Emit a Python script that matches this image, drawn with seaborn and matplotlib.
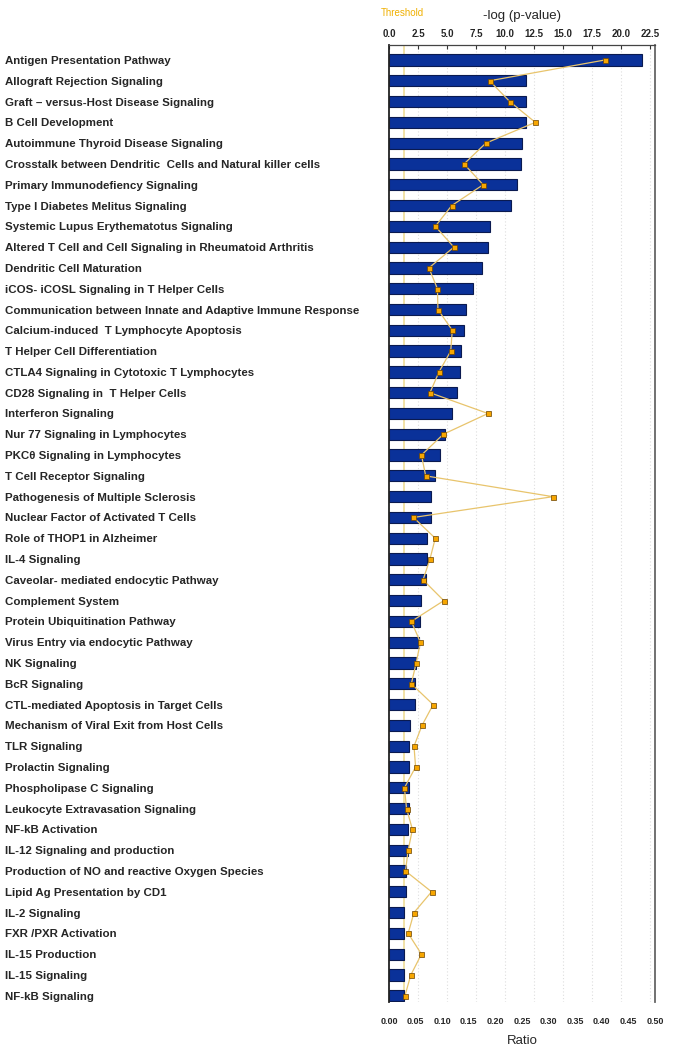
import numpy as np
import pandas as pd
import matplotlib
matplotlib.use("Agg")
import matplotlib.pyplot as plt
import seaborn as sns

pathways = [
    "Antigen Presentation Pathway",
    "Allograft Rejection Signaling",
    "Graft \u2013 versus-Host Disease Signaling",
    "B Cell Development",
    "Autoimmune Thyroid Disease Signaling",
    "Crosstalk between Dendritic  Cells and Natural killer cells",
    "Primary Immunodefiency Signaling",
    "Type I Diabetes Melitus Signaling",
    "Systemic Lupus Erythematotus Signaling",
    "Altered T Cell and Cell Signaling in Rheumatoid Arthritis",
    "Dendritic Cell Maturation",
    "iCOS- iCOSL Signaling in T Helper Cells",
    "Communication between Innate and Adaptive Immune Response",
    "Calcium-induced  T Lymphocyte Apoptosis",
    "T Helper Cell Differentiation",
    "CTLA4 Signaling in Cytotoxic T Lymphocytes",
    "CD28 Signaling in  T Helper Cells",
    "Interferon Signaling",
    "Nur 77 Signaling in Lymphocytes",
    "PKC\u03b8 Signaling in Lymphocytes",
    "T Cell Receptor Signaling",
    "Pathogenesis of Multiple Sclerosis",
    "Nuclear Factor of Activated T Cells",
    "Role of THOP1 in Alzheimer",
    "IL-4 Signaling",
    "Caveolar- mediated endocytic Pathway",
    "Complement System",
    "Protein Ubiquitination Pathway",
    "Virus Entry via endocytic Pathway",
    "NK Signaling",
    "BcR Signaling",
    "CTL-mediated Apoptosis in Target Cells",
    "Mechanism of Viral Exit from Host Cells",
    "TLR Signaling",
    "Prolactin Signaling",
    "Phospholipase C Signaling",
    "Leukocyte Extravasation Signaling",
    "NF-kB Activation",
    "IL-12 Signaling and production",
    "Production of NO and reactive Oxygen Species",
    "Lipid Ag Presentation by CD1",
    "IL-2 Signaling",
    "FXR /PXR Activation",
    "IL-15 Production",
    "IL-15 Signaling",
    "NF-kB Signaling",
]

neg_log_p = [
    21.8, 11.8, 11.8, 11.8, 11.5, 11.4, 11.05, 10.5, 8.7, 8.55, 8.05,
    7.25, 6.6, 6.5, 6.2, 6.1, 5.9, 5.45, 4.8, 4.4, 4.0, 3.65, 3.6,
    3.3, 3.3, 3.15, 2.8, 2.7, 2.6, 2.3, 2.25, 2.2, 1.8, 1.75, 1.75,
    1.7, 1.7, 1.67, 1.6, 1.5, 1.45, 1.3, 1.25, 1.25, 1.25, 1.25,
]

ratio = [
    0.406, 0.189, 0.227, 0.275, 0.182, 0.141, 0.177, 0.118, 0.087, 0.122, 0.075,
    0.091, 0.092, 0.119, 0.116, 0.094, 0.077, 0.186, 0.102, 0.061, 0.069, 0.308, 0.046,
    0.087, 0.077, 0.064, 0.103, 0.042, 0.059, 0.051, 0.042, 0.083, 0.062, 0.047, 0.050,
    0.029, 0.033, 0.044, 0.036, 0.031, 0.080, 0.047, 0.036, 0.061, 0.041, 0.030,
]

threshold = 1.3
top_ticks = [0.0, 2.5, 5.0, 7.5, 10.0, 12.5, 15.0, 17.5, 20.0, 22.5]
bottom_ticks = [0.00, 0.05, 0.10, 0.15, 0.20, 0.25, 0.30, 0.35, 0.40, 0.45, 0.50]

df = pd.DataFrame({
    "pathway": pathways,
    "neglogp": neg_log_p,
    "ratio": ratio,
    "pos": np.arange(len(pathways)),
})

sns.set_style("white")
plt.rcParams["font.family"] = ["Liberation Sans", "DejaVu Sans"]

fig = plt.figure(figsize=(6.73, 10.5), dpi=100)
ax = fig.add_axes([389 / 673, 1 - 1002 / 1050, (655 - 389) / 673, (1002 - 45) / 1050])

ax.set_axisbelow(True)
ax.grid(axis="x", color="#dedede", linestyle=(0, (1, 2)), linewidth=0.8)
ax.axvline(threshold, color="#f0dfa0", linewidth=1.3, zorder=0.8)

sns.barplot(data=df, x="neglogp", y="pathway", orient="h", color="#0a3199",
            width=0.54, edgecolor="#0a1a50", linewidth=0.8, saturation=1,
            ax=ax, zorder=2)
ax.set_ylabel("")

ax2 = ax.twiny()
sns.lineplot(data=df, x="ratio", y="pos", sort=False, orient="y", ax=ax2,
             color="#e8c46c", linewidth=0.9, marker="s", markersize=3.6,
             markerfacecolor="#f7a600", markeredgecolor="#6a4200",
             markeredgewidth=0.5, zorder=3)
ax2.set_ylabel("")

# top axis: -log(p-value)
ax.set_xlim(0, 22.93)
ax.xaxis.tick_top()
ax.xaxis.set_label_position("top")
ax.set_xticks(top_ticks)
ax.set_xticklabels([f"{t:.1f}" for t in top_ticks], fontsize=7, fontweight="bold")
ax.tick_params(axis="x", which="both", top=True, bottom=False, labeltop=True,
               labelbottom=False, direction="in", length=3, pad=4.5, color="#333333")
ax.set_xlabel("-log (p-value)", fontsize=9.5, labelpad=7)
ax.tick_params(axis="y", length=0, pad=276.5)
for lab in ax.get_yticklabels():
    lab.set_horizontalalignment("left")
    lab.set_fontsize(8.25)
    lab.set_fontweight("bold")

# bottom axis: Ratio
ax2.xaxis.tick_bottom()
ax2.xaxis.set_label_position("bottom")
ax2.set_xlim(0, 0.5)
ax2.set_xticks(bottom_ticks)
ax2.set_xticklabels([f"{t:.2f}" for t in bottom_ticks], fontsize=6.5, fontweight="bold")
ax2.tick_params(axis="x", which="both", top=False, bottom=False, labeltop=False,
                labelbottom=True, length=0, pad=11)
ax2.set_xlabel("Ratio", fontsize=9.5, labelpad=6)

ax.set_ylim(len(pathways) - 1 + 0.3, -0.72)
ax2.set_ylim(len(pathways) - 1 + 0.3, -0.72)

ax.spines["bottom"].set_visible(False)
ax.spines["left"].set_color("#222222")
ax.spines["left"].set_linewidth(1.3)
ax.spines["right"].set_color("#666666")
ax.spines["right"].set_linewidth(1.3)
ax.spines["top"].set_color("#444444")
ax.spines["top"].set_linewidth(0.9)
for sp in ax2.spines.values():
    sp.set_visible(False)

fig.text(402 / 673, 1 - 13 / 1050, "Threshold", color="#f0b000", fontsize=7,
         ha="center", va="center")

fig.savefig("out.png", dpi=100)
